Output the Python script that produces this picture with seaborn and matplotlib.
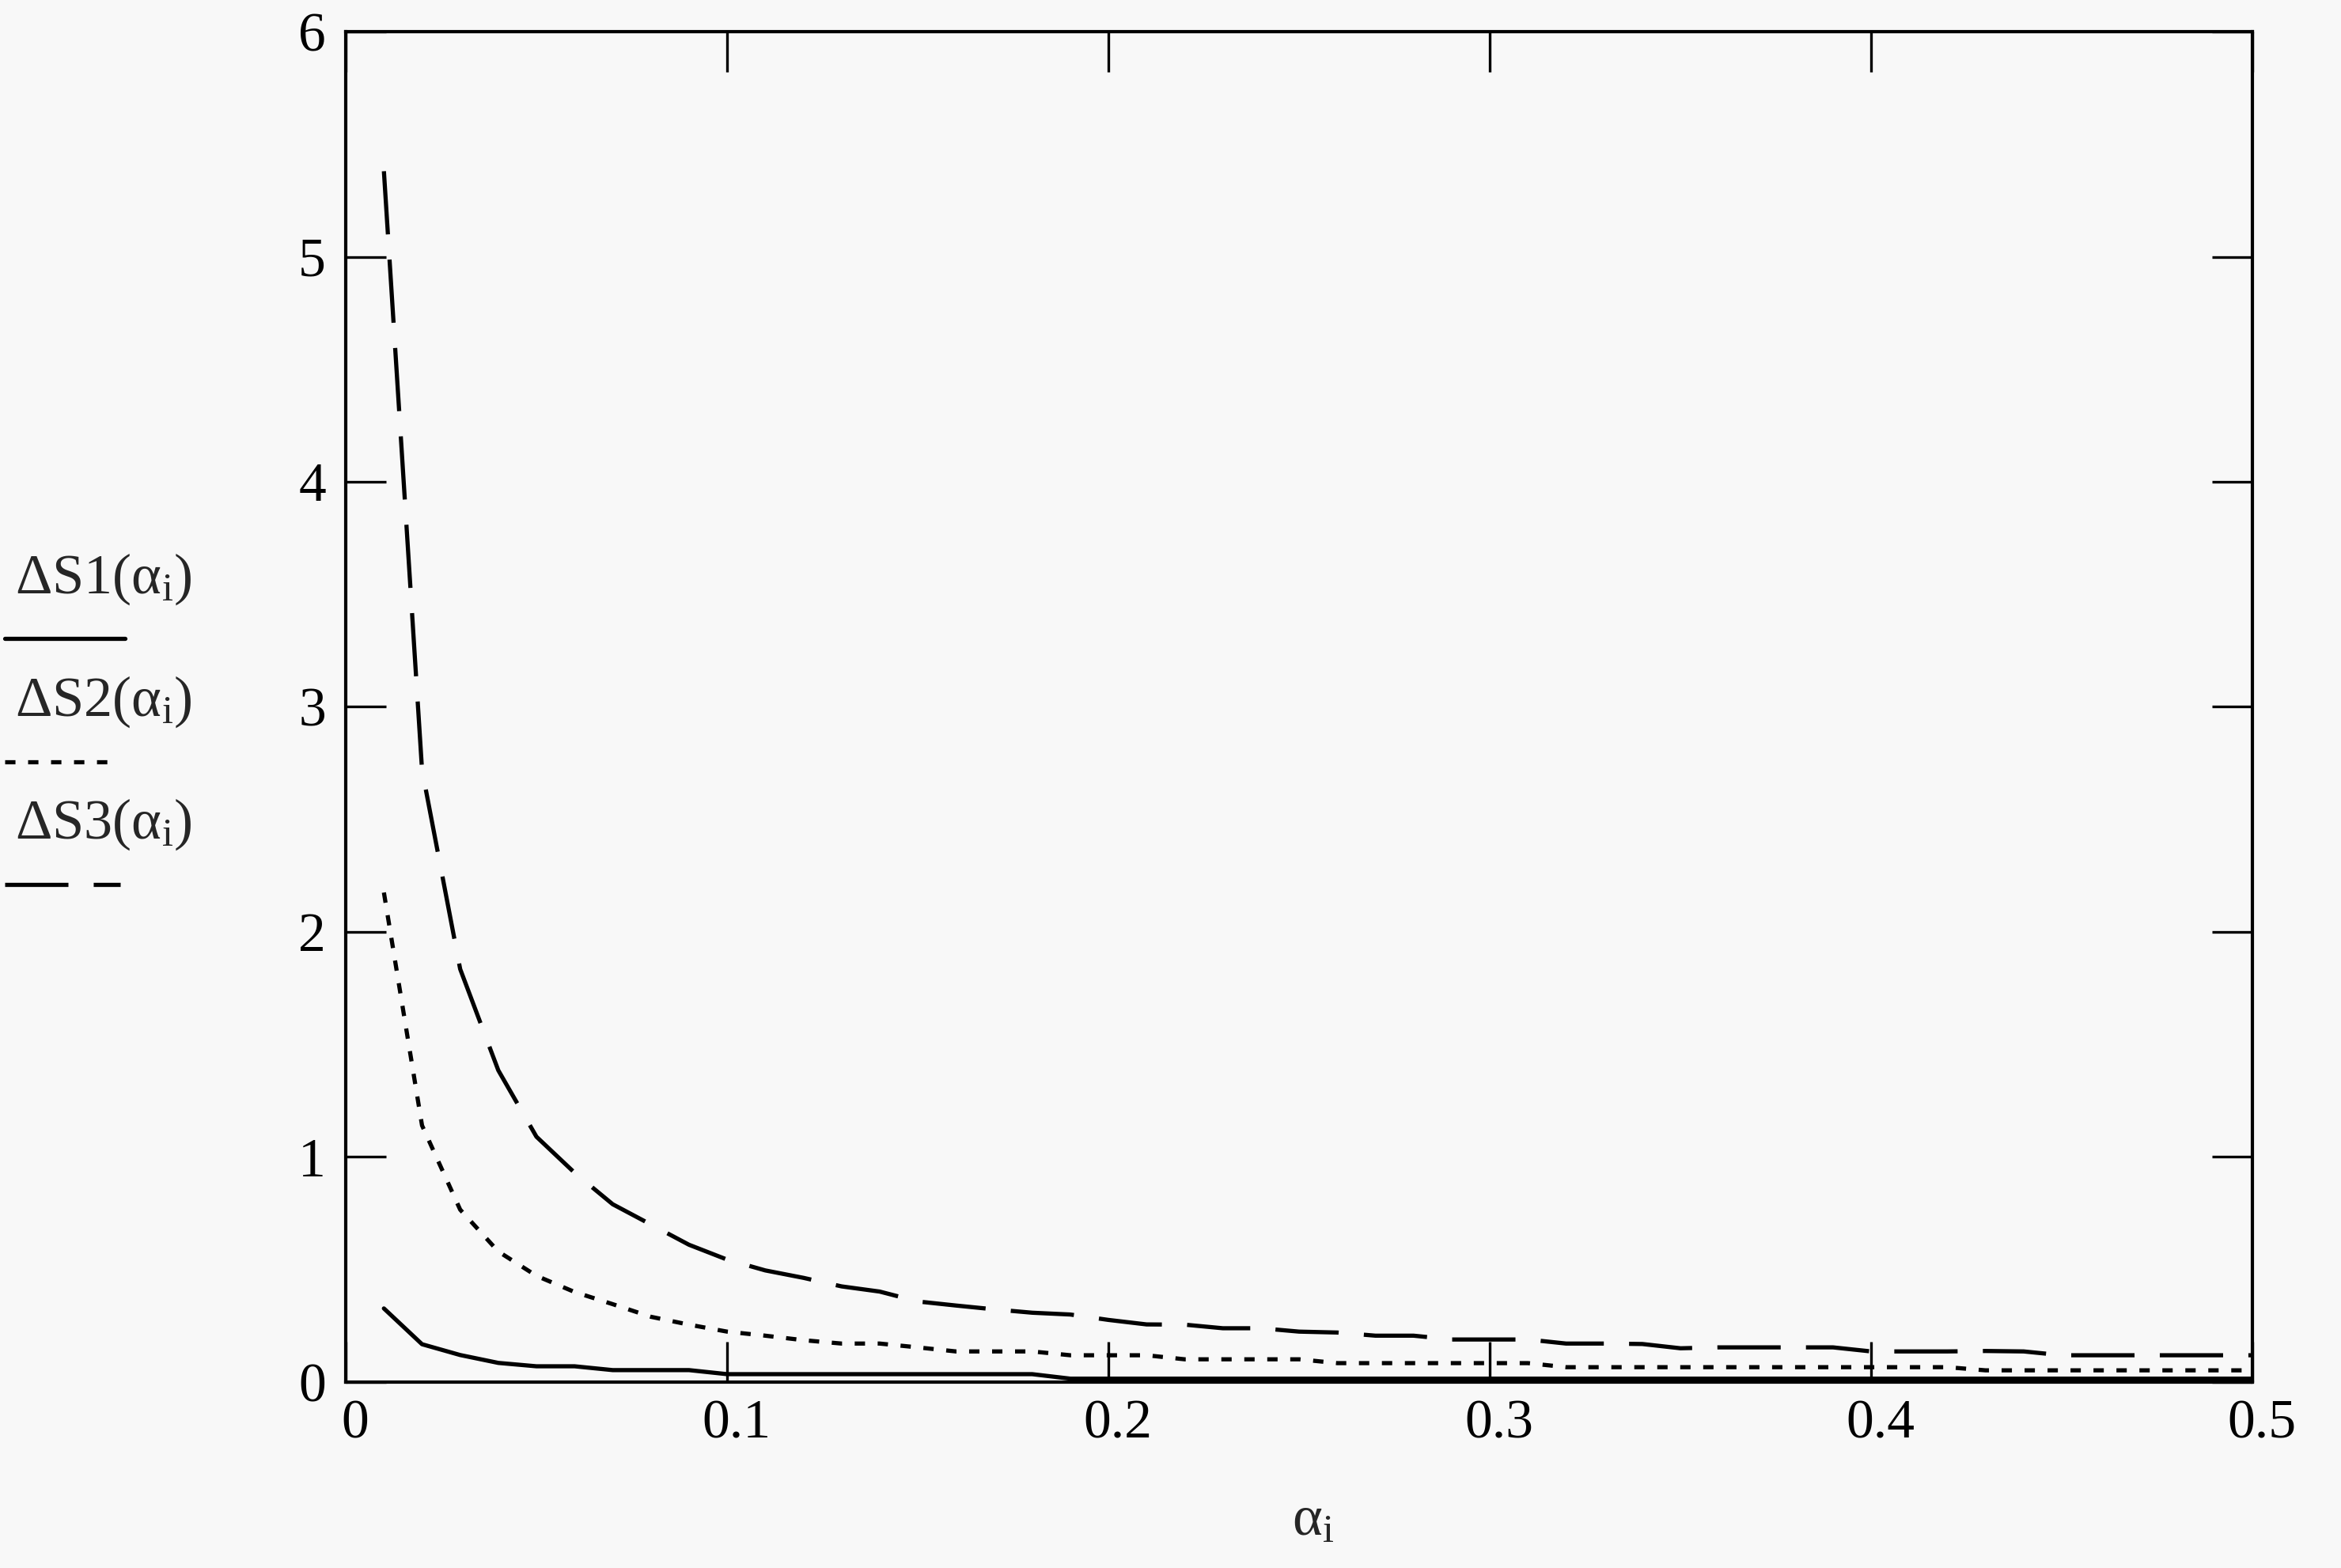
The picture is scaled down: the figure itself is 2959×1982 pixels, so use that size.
import numpy as np
import pandas as pd
import matplotlib
matplotlib.use("Agg")
import matplotlib.pyplot as plt
import matplotlib.transforms as mtransforms
from matplotlib.lines import Line2D
import seaborn as sns

# alpha_i values (step 0.01) and the three curves
alpha = [0.01, 0.02, 0.03, 0.04, 0.05, 0.06, 0.07, 0.08, 0.09, 0.10,
         0.11, 0.12, 0.13, 0.14, 0.15, 0.16, 0.17, 0.18, 0.19, 0.20,
         0.21, 0.22, 0.23, 0.24, 0.25, 0.26, 0.27, 0.28, 0.29, 0.30,
         0.31, 0.32, 0.33, 0.34, 0.35, 0.36, 0.37, 0.38, 0.39, 0.40,
         0.41, 0.42, 0.43, 0.44, 0.45, 0.46, 0.47, 0.48, 0.49, 0.50]

dS1 = [0.327, 0.168, 0.120, 0.085, 0.070, 0.070, 0.053, 0.053, 0.053, 0.035,
       0.035, 0.035, 0.035, 0.035, 0.035, 0.035, 0.035, 0.035, 0.015, 0.015,
       0.015, 0.015, 0.015, 0.015, 0.015, 0.015, 0.015, 0.015, 0.015, 0.015,
       0.015, 0.015, 0.015, 0.015, 0.015, 0.015, 0.015, 0.015, 0.015, 0.015,
       0.015, 0.015, 0.015, 0.015, 0.015, 0.015, 0.015, 0.015, 0.015, 0.015]

dS2 = [2.175, 1.140, 0.766, 0.580, 0.472, 0.400, 0.346, 0.290, 0.255, 0.224,
       0.206, 0.186, 0.171, 0.171, 0.154, 0.136, 0.136, 0.136, 0.119, 0.119,
       0.119, 0.101, 0.101, 0.101, 0.101, 0.084, 0.084, 0.084, 0.084, 0.084,
       0.084, 0.066, 0.066, 0.066, 0.066, 0.066, 0.066, 0.066, 0.066, 0.066,
       0.066, 0.066, 0.052, 0.052, 0.052, 0.052, 0.052, 0.052, 0.052, 0.052]

dS3 = [5.38, 2.72, 1.835, 1.385, 1.09, 0.93, 0.79, 0.70, 0.61, 0.544,
       0.496, 0.463, 0.425, 0.402, 0.358, 0.340, 0.323, 0.308, 0.300, 0.276,
       0.256, 0.255, 0.239, 0.239, 0.224, 0.220, 0.206, 0.206, 0.189, 0.189,
       0.189, 0.171, 0.171, 0.169, 0.150, 0.154, 0.154, 0.154, 0.154, 0.136,
       0.136, 0.136, 0.138, 0.136, 0.119, 0.119, 0.119, 0.119, 0.119, 0.119]

x_ticks = [0, 0.1, 0.2, 0.3, 0.4, 0.5]
x_ticklabels = ["0", "0.1", "0.2", "0.3", "0.4", "0.5"]
y_ticks = [0, 1, 2, 3, 4, 5, 6]

df = pd.DataFrame({
    "alpha": alpha * 3,
    "dS": dS1 + dS2 + dS3,
    "curve": ["S1"] * len(alpha) + ["S2"] * len(alpha) + ["S3"] * len(alpha),
})

sns.set_style("white")
plt.rcParams["font.family"] = ["Liberation Serif", "DejaVu Serif"]
plt.rcParams["mathtext.fontset"] = "custom"
plt.rcParams["mathtext.rm"] = "Liberation Serif"
plt.rcParams["mathtext.it"] = "Liberation Serif:italic"
plt.rcParams["lines.scale_dashes"] = False

bg = "#f8f8f8"
lw = 3.8
dash_styles = {"S1": "", "S2": (9.4, 11.5), "S3": (57.6, 23.0)}

fig = plt.figure(figsize=(29.59, 19.82), dpi=100, facecolor=bg)
ax = fig.add_axes([0.1477, 0.1186, 0.9622 - 0.1477, 0.9798 - 0.1186])
ax.set_facecolor(bg)

sns.lineplot(data=df, x="alpha", y="dS", style="curve", dashes=dash_styles,
             color="black", linewidth=lw, legend=False, ax=ax)

ax.set_xlim(0, 0.5)
ax.set_ylim(0, 6)
ax.set_xticks(x_ticks)
ax.set_xticklabels(x_ticklabels)
ax.set_yticks(y_ticks)
ax.set_xlabel("")
ax.set_ylabel("")

for sp in ax.spines.values():
    sp.set_visible(True)
    sp.set_color("black")
    sp.set_linewidth(3.0)

ax.tick_params(axis="both", which="major", direction="in", length=37, width=2.4,
               colors="black", top=True, right=True, bottom=True, left=True,
               labelsize=50)
ax.tick_params(axis="x", pad=16)
ax.tick_params(axis="y", pad=18)

# labels in the original sit a little to the right of their ticks
shift = mtransforms.ScaledTranslation(12 / 100, 0, fig.dpi_scale_trans)
for lab in ax.get_xticklabels():
    lab.set_transform(lab.get_transform() + shift)

# x label
fig.text(0.561, 0.021, r"α$_{\mathrm{i}}$", fontsize=52, ha="center", va="baseline")

# stacked y labels with their line samples
labels = [r"ΔS1(α$_{\mathrm{i}}$)",
          r"ΔS2(α$_{\mathrm{i}}$)",
          r"ΔS3(α$_{\mathrm{i}}$)"]
label_y = [0.6216, 0.5434, 0.4652]
sample_y = [0.5928, 0.5141, 0.4359]
sample_x1 = [0.0534, 0.046, 0.0514]
for lab, ly, sy, x1, key in zip(labels, label_y, sample_y, sample_x1, ["S1", "S2", "S3"]):
    fig.text(0.0064, ly, lab, fontsize=52, ha="left", va="baseline")
    ln = Line2D([0.002, x1], [sy, sy], transform=fig.transFigure,
                color="black", linewidth=lw)
    if dash_styles[key]:
        ln.set_dashes(dash_styles[key])
    fig.add_artist(ln)

fig.savefig("out.png", dpi=100, facecolor=bg)
